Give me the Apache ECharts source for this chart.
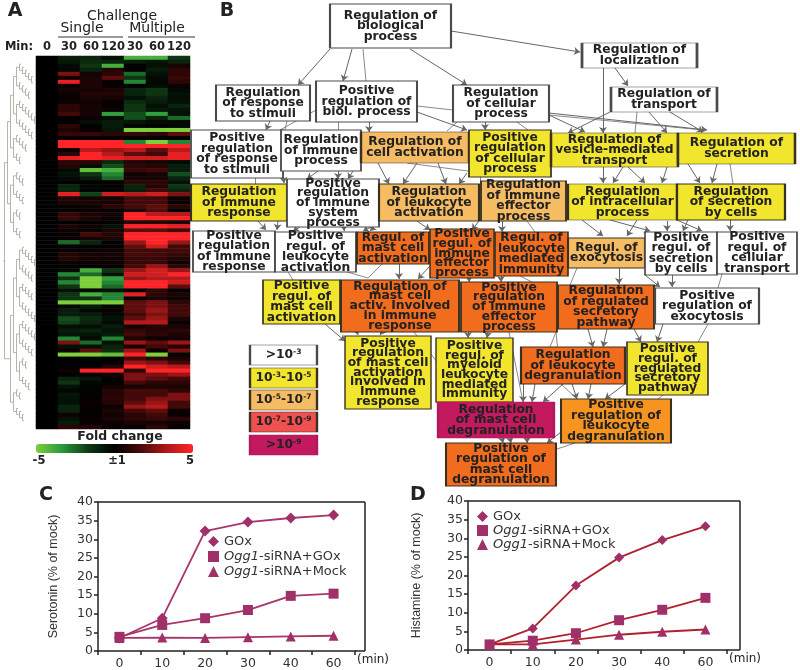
<!DOCTYPE html>
<html><head><meta charset="utf-8">
<script src="https://cdn.jsdelivr.net/npm/echarts@6/dist/echarts.min.js"></script>
<style>html,body{margin:0;padding:0;background:#fff}#c{width:800px;height:670px}</style>
</head><body><div id="c"></div>
<script>
// ---------- Panel A data ----------
const heatColumns = ['0','30','60','120','30 ','60 ','120 '];
const baselineMin0 = 0;
const foldChangeRows = [
[-.8,-1,-.5,-4,-4,-1.5],[-.7,-1.2,-1,-.8,-.6,-1],[-.3,-1.5,-4,0,-.5,.5],[-.2,-1,.8,0,-.8,1],[2.5,.5,1,-2.5,-.5,1],
[.3,.6,2,-1.5,-.3,1.2],[4.5,.7,.2,-3,-.2,1],[.3,.7,.2,0,-.3,.3],[.5,.5,.6,-1,-1.5,-.3],[.3,.8,.8,-1,-1.5,-.5],
[.2,.6,.5,-.5,-1,-.4],[.3,.4,.2,-1.2,-.8,-.5],[1,.5,.2,-1.5,-.5,-1],[1,.5,.3,-1.5,-.7,-.6],[1.5,.5,-3.5,-2,-3.5,-.5],
[.1,.3,-.4,-2,-1,-2.5],[.1,-.4,-.8,-.6,-.3,-.3],[1,.1,-.8,-.2,-.1,-.2],[.7,.2,-.6,-5,-5,-5],[1.2,1.2,1,1.2,1,2],
[.2,.1,.1,.1,.1,.1],[5,5,5,-3,-5,-3],[5,5,5,5,5,5],[.2,3.5,3,3.5,2,3.5],[1,5,3.5,2,1.5,4.5],
[4.5,5,4.5,4,4,4.5],[1,1,-1.2,.8,.6,-.3],[.8,-.3,-2,1,.8,-.8],[-.3,-4.5,-4,1.2,1.5,-.8],[-.5,-1.5,-3,.3,.5,-2],
[-.3,-.8,-2.5,.5,.5,-1],[0,.1,.2,1,1,-.5],[-1,-.2,.1,-1,.8,-1.5],[-1,-.1,.1,-.8,1.5,-1],[4.5,-1.8,4,3.5,4,2.5],
[.8,.4,.5,1.5,1.5,.3],[.6,.6,.5,1.5,1.5,.3],[.2,.3,1,1.5,2,1],[.2,.2,.2,.8,1.8,.2],[1.2,.6,.5,5,3.5,3.5],
[1.2,.6,.3,5,5,5],[.1,.1,.1,1,.8,.6],[.6,.4,-.5,5,5,4.5],[.3,.2,.6,2,2,1.5],[.2,1.5,.8,5,5,5],
[.2,.5,.6,5,5,5],[-2.5,-1,.1,3,5,3],[-.1,-.1,.1,2,4,1.5],[.2,.2,.3,1.5,1.5,1.5],[.8,.5,.5,1.5,1.5,1.2],
[.8,.4,.4,1.2,1.2,.8],[.3,.3,.3,1.2,1.2,.3],[.1,.1,.1,1.5,3,1],[-.3,-4,-1.5,3,4,3],[-3,-2.5,-.5,4,4,5],
[-1.5,-5,-3.5,3,3.5,3.5],[-3,-5,-3,5,5,4],[-1.5,-5,-2.5,5,5,2],[-.5,-.3,-.5,.2,1,.1],[-1.5,-4,-3,4.5,1,.6],
[-1.5,-1.5,-3,.2,.6,.4],[-5,-5,-5,2,2.5,1],[-.3,-.8,-.3,2,2.5,1.5],[-.8,-.2,.2,2,3,1.5],[-.8,-.8,-.2,1.5,2.5,1.5],
[-2,-1.2,-.5,2,3,.6],[-1.8,-1,-.3,3.5,3.5,.2],[-.4,-.4,-.8,.5,.8,.6],[-.8,-1,-.6,1.2,.8,1],[-.6,-.6,-.8,1.5,1,.6],
[-3,-.3,-3,.7,.3,.5],[2.5,-2.5,-.5,3,2,3],[-.5,-.4,-1,.5,1.5,.8],[.3,2,-1.3,3,.2,2.5],[-5,-5,-4.5,5,-5,-.2],
[0,-.2,0,1.5,1,.6],[.1,0,.1,3,2.5,1.5],[.1,.2,.8,5,4,3.5],[.3,5,5,1,5,5],[.1,.2,.5,2.5,2.5,3],
[-1,-.6,.1,2.5,2,1.5],[-1.5,-.2,.1,1.5,1,1],[-.5,-.1,.4,.5,.6,.6],[-.2,-.1,.8,1.5,1.5,1],[-.6,.1,.8,1.5,1.5,2.5],
[-.5,.1,1,1.5,2.5,2.5],[-.5,.2,.8,2,3,1.5],[-1,.2,.3,3,3.5,1.5],[-1,.1,.6,1.5,2,.3],[.3,.1,.4,1,1.5,.2],
[-.5,.2,.6,1,1.2,1],[-.8,.1,.3,.6,.5,.3],[1,.8,.2,.2,1,.1]
];
const clusterSpec = [[[[[6,5],[7,6]],[5,3]],[[4,4],[3,3]]],[[[[[6,5],[5,6]],[[6,5],[3,4]]],[3,4]]]];

// ---------- Panel B data ----------
const goTerms = [
['Regulation of\nbiological\nprocess',0],['Regulation\nof response\nto stimuli',0],['Positive\nregulation of\nbiol. process',0],
['Regulation\nof cellular\nprocess',0],['Positive\nregulation\nof response\nto stimuli',0],['Regulation\nof immune\nprocess',0],
['Regulation of\ncell activation',2],['Positive\nregulation\nof cellular\nprocess',1],['Regulation of\nvesicle-mediated\ntransport',1],
['Regulation of\nsecretion',1],['Regulation of\nlocalization',0],['Regulation of\ntransport',0],
['Regulation\nof immune\nresponse',1],['Positive\nregulation\nof immune\nsystem\nprocess',0],['Regulation\nof leukocyte\nactivation',2],
['Regulation\nof immune\neffector\nprocess',2],['Regulation\nof intracellular\nprocess',1],['Regulation\nof secretion\nby cells',1],
['Positive\nregulation\nof immune\nresponse',0],['Positive\nregul. of\nleukocyte\nactivation',0],['Regul. of\nmast cell\nactivation',3],
['Positive\nregul. of\nimmune\neffector\nprocess',3],['Regul. of\nleukocyte\nmediated\nimmunity',3],['Regul. of\nexocytosis',2],
['Positive\nregul. of\nsecretion\nby cells',0],['Positive\nregul. of\ncellular\ntransport',0],['Positive\nregul. of\nmast cell\nactivation',1],
['Regulation of\nmast cell\nactiv. Involved\nin immune\nresponse',3],['Positive\nregulation\nof immune\neffector\nprocess',3],['Regulation\nof regulated\nsecretory\npathway',3],
['Positive\nregulation of\nexocytosis',0],['Positive\nregulation\nof mast cell\nactivation\ninvolved in\nImmune\nresponse',1],['Positive\nregul. of\nmyeloid\nleukocyte\nmediated\nimmunity',1],
['Regulation\nof leukocyte\ndegranulation',3],['Positive\nregul. of\nregulated\nsecretory\npathway',1],['Regulation\nof mast cell\ndegranulation',4],
['Positive\nregulation of\nleukocyte\ndegranulation',5],['Positive\nregulation of\nmast cell\ndegranulation',3]
];
const goBoxes = [
[330,4,451,48],[216,85,310,121],[316,81,417,122],[453,85,549,122],[191,130,283,178],[281,130,361,171],[361,132,469,163],[469,130,551,177],[551,133,678,167],[678,133,795,164],
[582,43,697,68],[611,87,717,112],[191,184,287,221],[287,179,379,227],[379,184,479,221],[481,181,566,221],[568,184,677,220],[677,184,785,220],
[193,231,275,272],[275,232,356,272],[357,232,429,264],[430,229,494,278],[495,232,568,276],[568,238,645,268],[645,232,717,275],[717,232,797,274],
[263,280,340,324],[341,280,459,332],[461,282,557,332],[558,285,654,329],[655,288,759,324],[345,336,431,409],[436,338,513,402],[521,347,625,384],[627,342,708,395],[438,402,554,438],[561,399,671,443],[446,443,556,486]
];
const levelColors = ['#ffffff','#f2e52e','#f6bc63','#f26c1e','#c2195f','#f79420','#f0504f'];
const keyLabels = ['>10{s|-3}','10{s|-3}-10{s|-5}','10{s|-5}-10{s|-7}','10{s|-7}-10{s|-9}','>10{s|-9}'];
const keyLevels = [0,1,2,6,4];
const keyBoxes = [[250,345,317,365],[250,368,317,388],[250,390,317,410],[250,412,317,432],[250,435,317,455]];
const arrowEdges = [
[330,49,298,85],[352,49,343,81],[410,49,467,85],[451,31,580,52],[270,121,266,130],[369,122,369,132],[417,112,467,130],[485,122,485,130],
[549,115,585,132],[549,113,707,130],[603,68,603,133],[615,68,628,86],[610,112,568,133],[649,112,667,133],[670,112,703,132],
[283,172,284,183],[338,171,338,179],[353,171,348,179],[318,171,307,179],
[378,163,389,184],[417,163,403,184],[438,163,446,184],[467,173,459,184],
[603,167,603,183],[623,167,613,183],[628,167,645,183],[667,167,662,183],[688,164,700,183],[717,164,712,183],
[258,221,266,230],[278,221,277,230],[300,227,293,231],[344,227,344,231],[380,223,363,231],[378,223,370,231],[417,221,430,230],[479,221,472,230],[502,221,502,232],
[582,220,603,236],[637,220,627,236],[603,218,650,231],[688,220,683,231],[667,221,667,231],[677,220,702,231],[730,220,730,231],
[429,267,418,279],[399,264,399,279],[469,278,469,282],[501,276,501,282],[619,268,619,284],[645,275,660,287],[672,275,672,287],
[325,324,345,341],[357,332,358,335],[382,332,380,335],[468,332,468,338],[488,332,487,338],[588,329,593,347],[607,329,603,347],[634,329,641,342],[663,324,657,342],
[535,384,532,402],[563,384,543,402],[523,382,523,402],[572,384,577,399],[591,384,588,399],[625,384,605,399],
[502,438,503,443],[510,438,511,443],[527,438,527,443],[561,432,547,443]
];
const plainEdges = [
[363,49,366,81],[316,110,280,130],[287,121,285,130],[338,122,338,130],[417,106,453,110],[549,115,703,130],[457,122,447,131],[517,122,528,130],
[637,112,635,133],[407,163,483,173],[480,177,480,181],[730,164,733,184],[255,178,255,184],[527,221,535,232],[288,272,293,280],[347,272,368,278],[382,264,368,278],
[520,276,532,282],[577,268,570,285],[722,274,718,288],[414,332,437,362],[509,332,523,402],[556,332,550,347],[556,332,561,384],[561,384,577,399],[708,324,698,342],[663,395,658,399],[575,443,557,449],[436,402,440,402]
];

// ---------- Panels C, D data ----------
const minutes = ['0','10','20','30','40','60'];
const serotoninGOx = [3.5,8.8,32.2,34.6,35.7,36.5];
const serotoninSiGOx = [3.8,7,8.8,11,14.8,15.4];
const serotoninSiMock = [3.5,3.6,3.5,3.7,3.9,4.1];
const histamineGOx = [1.5,5.8,17.3,24.8,29.5,33.2];
const histamineSiGOx = [1.5,2.5,4.5,8,10.8,14];
const histamineSiMock = [1.5,1.5,2.8,4.1,4.9,5.5];
const seriesNames = ['GOx','Ogg1-siRNA+GOx','Ogg1-siRNA+Mock'];

// ---------- Build ----------
const DJ = '"DejaVu Sans"', LB = '"Liberation Sans"';
const heatData = [];
foldChangeRows.forEach((r, y) => {
  heatData.push([0, y, baselineMin0]);
  r.forEach((v, i) => heatData.push([i + 1, y, v]));
});
let leafId = 0;
function leaves(n) {
  const node = { name: 'g' + (leafId++), children: [{ name: 'g' + (leafId++) }] };
  if (n > 2) node.children.push(leaves(n - 1)); else node.children.push({ name: 'g' + (leafId++) });
  return node;
}
function buildTree(s) {
  if (typeof s === 'number') return leaves(s);
  return { name: 'c' + (leafId++), children: s.map(buildTree) };
}
function nodeItem(label, level, b) {
  const lines = label.split('\n').length;
  return {
    value: [(b[0] + b[2]) / 2, (b[1] + b[3]) / 2],
    symbolSize: [b[2] - b[0], b[3] - b[1]],
    itemStyle: { color: levelColors[level], opacity: 1, borderColor: level === 4 ? '#b0185a' : (level === 0 ? '#4a4a4a' : '#3a3020'), borderWidth: 1.3 },
    label: { formatter: label, lineHeight: lines >= 5 ? 9.7 : 10.5 }
  };
}
const nodes = goTerms.map((t, i) => nodeItem(t[0], t[1], goBoxes[i]));
const keys = keyLabels.map((t, i) => nodeItem(t, keyLevels[i], keyBoxes[i]));
const toLines = e => ({ coords: [[e[0], e[1]], [e[2], e[3]]] });

function lineAxisX(idx) {
  return {
    type: 'category', gridIndex: idx, data: minutes, boundaryGap: true,
    axisLine: { lineStyle: { color: '#222', width: 1.5 } },
    axisTick: { show: true, inside: false, length: 4, alignWithLabel: false, lineStyle: { color: '#222', width: 1.5 } },
    axisLabel: { fontFamily: DJ, fontSize: 12.5, color: '#333', margin: 6, interval: 0 }
  };
}
function lineAxisY(idx, title, gap) {
  return {
    type: 'value', gridIndex: idx, min: 0, max: 40, interval: 5, name: title, nameLocation: 'middle', nameGap: gap,
    nameTextStyle: { fontFamily: LB, fontSize: 12.5, color: '#333' },
    axisLine: { show: true, lineStyle: { color: '#222', width: 1.5 } }, splitLine: { show: false },
    axisTick: { show: true, length: 4, lineStyle: { color: '#222', width: 1.5 } },
    axisLabel: { fontFamily: DJ, fontSize: 12.5, color: '#333', margin: 5 }
  };
}
function lineSeries(name, data, sym, size, idx, lineColor) {
  return {
    type: 'line', name, data, xAxisIndex: idx, yAxisIndex: idx, symbol: sym, symbolSize: size, showAllSymbol: true, silent: true,
    lineStyle: { color: lineColor, width: 1.8 }, itemStyle: { color: '#a03068' }, z: 3
  };
}
function legendFor(left, top, gap) {
  return {
    left, top, orient: 'vertical', itemGap: gap, itemWidth: 11, itemHeight: 11, selectedMode: false, padding: 0,
    data: [{ name: seriesNames[0], icon: 'diamond' }, { name: seriesNames[1], icon: 'rect' }, { name: seriesNames[2], icon: 'triangle' }],
    formatter: n => n.replace('Ogg1', '{i|Ogg1}'),
    textStyle: { fontFamily: DJ, fontSize: 13, color: '#333', rich: { i: { fontFamily: DJ, fontStyle: 'italic', fontSize: 13, color: '#333' } } }
  };
}
function txt(x, y, text, size, bold, color) {
  return { type: 'text', x, y, silent: true, style: { text, fill: color || '#222', font: (bold ? 'bold ' : '') + size + 'px ' + DJ, align: 'center', verticalAlign: 'middle' } };
}
function seg(x1, y1, x2, y2, color, w) {
  return { type: 'line', silent: true, shape: { x1, y1, x2, y2 }, style: { stroke: color, lineWidth: w } };
}
const chart = echarts.init(document.getElementById('c'));
chart.setOption({
  animation: false, backgroundColor: '#fff',
  grid: [
    { left: 36, top: 56, width: 154, height: 373 },
    { left: 98, top: 502, width: 257, height: 149 },
    { left: 468, top: 501, width: 259, height: 149 },
    { left: 0, top: 0, width: 800, height: 670 }
  ],
  xAxis: [
    { type: 'category', gridIndex: 0, position: 'top', data: heatColumns, axisLine: { show: false }, axisTick: { show: false }, splitLine: { show: false },
      axisLabel: { interval: 0, margin: 3, fontFamily: DJ, fontWeight: 'bold', fontSize: 11.5, color: '#222', formatter: v => v.trim() } },
    lineAxisX(1), lineAxisX(2),
    { type: 'value', gridIndex: 3, min: 0, max: 800, show: false }
  ],
  yAxis: [
    { type: 'category', gridIndex: 0, inverse: true, data: foldChangeRows.map((r, i) => 'g' + i), show: false },
    lineAxisY(1, 'Serotonin (% of mock)', 38), lineAxisY(2, 'Histamine (% of mock)', 45),
    { type: 'value', gridIndex: 3, min: 0, max: 670, inverse: true, show: false }
  ],
  legend: [legendFor(208, 535, 2), legendFor(477, 510, 1)],
  visualMap: {
    type: 'continuous', seriesIndex: 0, min: -5, max: 5, orient: 'horizontal', left: 36, top: 444, padding: 0,
    itemWidth: 9, itemHeight: 157, calculable: false, text: null, showLabel: false, realtime: false, hoverLink: false,
    inRange: { color: ['#7dd03c', '#27993c', '#0f3a14', '#000000', '#4a0a0a', '#b01818', '#ff2428'] }
  },
  series: [
    { type: 'heatmap', xAxisIndex: 0, yAxisIndex: 0, data: heatData, silent: true, progressive: 0 },
    { type: 'tree', data: [buildTree(clusterSpec)], left: 3, top: 58, bottom: 243, width: 33, orient: 'LR', layout: 'orthogonal',
      symbol: 'none', symbolSize: 0, edgeShape: 'polyline', edgeForkPosition: '50%', expandAndCollapse: false, initialTreeDepth: -1, roam: false, silent: true,
      lineStyle: { color: '#a8a295', width: 0.8, curveness: 0 }, label: { show: false }, leaves: { label: { show: false } } },
    { type: 'lines', coordinateSystem: 'cartesian2d', xAxisIndex: 3, yAxisIndex: 3, data: plainEdges.map(toLines), silent: true, symbol: 'none',
      lineStyle: { color: '#8a8a8a', width: 1, opacity: 1, curveness: 0 }, z: 2 },
    { type: 'lines', coordinateSystem: 'cartesian2d', xAxisIndex: 3, yAxisIndex: 3, data: arrowEdges.map(toLines), silent: true, symbol: ['none', 'arrow'], symbolSize: 6,
      lineStyle: { color: '#666', width: 1, opacity: 1, curveness: 0 }, z: 2 },
    { type: 'scatter', xAxisIndex: 3, yAxisIndex: 3, symbol: 'rect', data: nodes.concat(keys), silent: true, z: 4,
      label: { show: true, position: 'inside', align: 'center', verticalAlign: 'middle', fontFamily: DJ, fontWeight: 'bold', fontSize: 12.3, lineHeight: 10.5, color: '#222',
        rich: { s: { fontFamily: DJ, fontWeight: 'bold', fontSize: 7.5, color: '#222', padding: [0, 0, 5, 0] } } } },
    lineSeries(seriesNames[0], serotoninGOx, 'diamond', 11, 1, '#a8356a'),
    lineSeries(seriesNames[1], serotoninSiGOx, 'rect', 10, 1, '#a8356a'),
    lineSeries(seriesNames[2], serotoninSiMock, 'triangle', 10, 1, '#a8356a'),
    lineSeries(seriesNames[0], histamineGOx, 'diamond', 10, 2, '#b0202f'),
    lineSeries(seriesNames[1], histamineSiGOx, 'rect', 10, 2, '#b0202f'),
    lineSeries(seriesNames[2], histamineSiMock, 'triangle', 10, 2, '#b0202f')
  ],
  graphic: { elements: [
    txt(15, 11, 'A', 19, true), txt(227, 11, 'B', 19, true), txt(46, 495, 'C', 19, true), txt(418, 495, 'D', 19, true),
    txt(122, 16, 'Challenge', 14), txt(82, 28, 'Single', 14), txt(157, 28, 'Multiple', 14),
    seg(58, 37, 123, 37, '#777', 1.3), seg(128, 37, 195, 37, '#777', 1.3),
    txt(19, 47, 'Min:', 11.5, true),
    txt(120, 437, 'Fold change', 12.5, true), txt(39, 461, '-5', 11.5, true), txt(117, 461, '\u00b11', 11.5, true), txt(190, 461, '5', 11.5, true),
    txt(373, 660, '(min)', 12), txt(745, 659, '(min)', 12),
    seg(98, 502, 365, 502, '#222', 1.5), seg(365, 502, 365, 651, '#222', 1.5), seg(355, 651, 365, 651, '#222', 1.5),
    seg(468, 501, 740, 501, '#222', 1.5), seg(740, 501, 740, 650, '#222', 1.5), seg(727, 650, 740, 650, '#222', 1.5)
  ] }
});
</script></body></html>
